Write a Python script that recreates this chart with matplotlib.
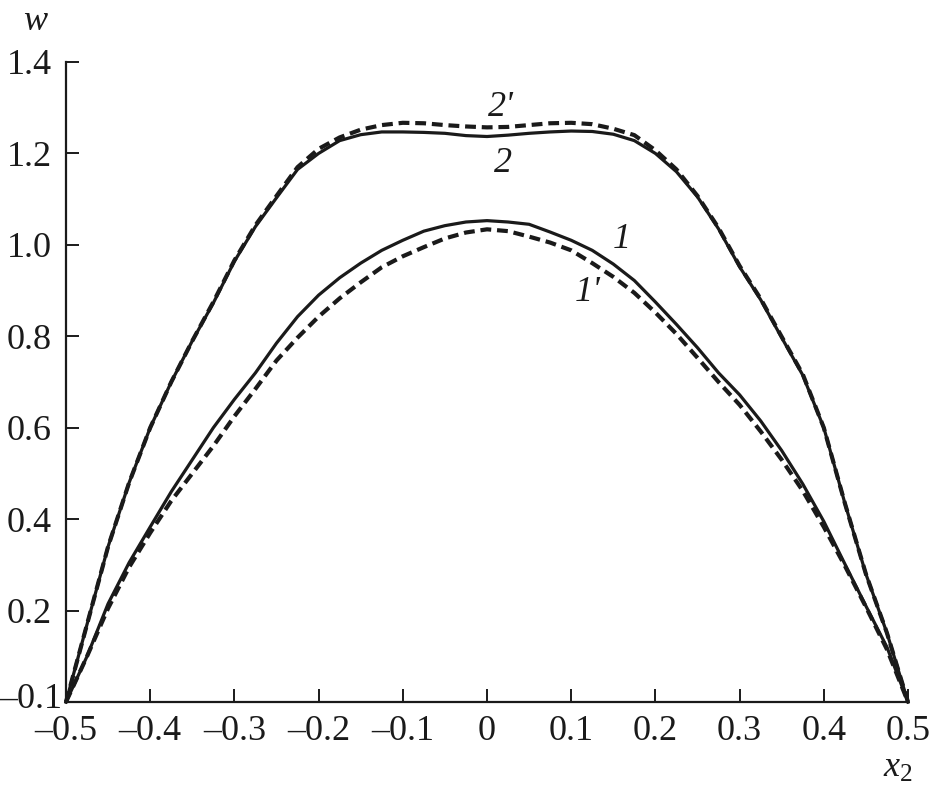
import matplotlib
matplotlib.use("Agg")
import matplotlib.pyplot as plt
import numpy as np

plt.rcParams['font.family'] = ['Liberation Serif', 'DejaVu Serif']
plt.rcParams['mathtext.fontset'] = 'custom'
plt.rcParams['mathtext.rm'] = 'Liberation Serif'
plt.rcParams['mathtext.it'] = 'Liberation Serif:italic'

# x positions of the read-off points
x2 = [-0.5, -0.475, -0.45, -0.425, -0.4, -0.375, -0.35, -0.325, -0.3, -0.275,
      -0.25, -0.225, -0.2, -0.175, -0.15, -0.125, -0.1, -0.075, -0.05, -0.025,
      0.0, 0.025, 0.05, 0.075, 0.1, 0.125, 0.15, 0.175, 0.2, 0.225,
      0.25, 0.275, 0.3, 0.325, 0.35, 0.375, 0.4, 0.425, 0.45, 0.475, 0.5]

# curve 1 (solid) and 1' (dashed)
w1 = [0.0, 0.10, 0.215, 0.305, 0.383, 0.46, 0.53, 0.60, 0.662, 0.72,
      0.785, 0.843, 0.89, 0.928, 0.96, 0.988, 1.01, 1.03, 1.042, 1.05,
      1.053, 1.05, 1.045, 1.028, 1.01, 0.988, 0.958, 0.922, 0.875, 0.826,
      0.775, 0.72, 0.672, 0.615, 0.55, 0.477, 0.395, 0.302, 0.21, 0.12, 0.0]
w1d = [0.0, 0.10, 0.205, 0.295, 0.37, 0.44, 0.50, 0.56, 0.625, 0.685,
       0.747, 0.797, 0.843, 0.883, 0.918, 0.951, 0.975, 0.995, 1.014, 1.027,
       1.034, 1.03, 1.018, 1.005, 0.988, 0.96, 0.93, 0.895, 0.852, 0.805,
       0.753, 0.70, 0.65, 0.592, 0.53, 0.462, 0.383, 0.298, 0.208, 0.115, 0.0]

# curve 2 (solid) and 2' (dashed)
w2 = [0.0, 0.17, 0.34, 0.48, 0.60, 0.70, 0.79, 0.873, 0.964, 1.04,
      1.103, 1.165, 1.20, 1.228, 1.241, 1.247, 1.247, 1.246, 1.244, 1.239,
      1.237, 1.240, 1.244, 1.247, 1.249, 1.248, 1.242, 1.228, 1.20, 1.16,
      1.105, 1.035, 0.952, 0.88, 0.797, 0.715, 0.60, 0.435, 0.28, 0.151, 0.0]
w2d = [0.0, 0.17, 0.34, 0.48, 0.60, 0.70, 0.79, 0.875, 0.966, 1.043,
       1.107, 1.17, 1.21, 1.235, 1.252, 1.262, 1.267, 1.266, 1.262, 1.259,
       1.257, 1.258, 1.262, 1.266, 1.267, 1.264, 1.254, 1.240, 1.207, 1.165,
       1.107, 1.037, 0.954, 0.882, 0.799, 0.717, 0.60, 0.435, 0.28, 0.151, 0.0]

xticks = [-0.5, -0.4, -0.3, -0.2, -0.1, 0.0, 0.1, 0.2, 0.3, 0.4, 0.5]
xticklabels = ['\u20130.5', '\u20130.4', '\u20130.3', '\u20130.2', '\u20130.1',
               '0', '0.1', '0.2', '0.3', '0.4', '0.5']
yticks = [0.0, 0.2, 0.4, 0.6, 0.8, 1.0, 1.2, 1.4]
yticklabels = ['\u20130.1', '0.2', '0.4', '0.6', '0.8', '1.0', '1.2', '1.4']

ink = '#1a1a1a'

fig = plt.figure(figsize=(9.32, 7.92), dpi=100)
ax = fig.add_axes([66 / 932, 90 / 792, 842 / 932, 640 / 792])

ax.plot(x2, w2, color=ink, lw=2.3, clip_on=False)
ax.plot(x2, w2d, color=ink, lw=3.0, ls=(0, (2.6, 1.4)), clip_on=False)
ax.plot(x2, w1, color=ink, lw=2.3, clip_on=False)
ax.plot(x2, w1d, color=ink, lw=3.0, ls=(0, (2.6, 1.4)), clip_on=False)

# curve labels
lab = dict(fontsize=26, style='italic', ha='center', va='center', color=ink)
ax.text(0.016, 1.30, "2'", **lab)
ax.text(0.019, 1.177, '2', **lab)
ax.text(0.160, 1.011, '1', **lab)
ax.text(0.119, 0.895, "1'", **lab)

ax.set_xlim(-0.5, 0.5)
ax.set_ylim(0, 1.4)
ax.set_xticks(xticks)
ax.set_xticklabels(xticklabels)
ax.set_yticks(yticks)
# the bottom label sits closer to the spine in the original, drawn separately
ax.set_yticklabels([''] + yticklabels[1:])
ax.annotate(yticklabels[0], xy=(0, 0), xycoords='axes fraction',
            xytext=(-3, 2), textcoords='offset points',
            ha='right', va='center', fontsize=26, color=ink)
ax.tick_params(direction='in', length=9.5, width=1.4, labelsize=26, color=ink,
               labelcolor=ink)
ax.tick_params(axis='x', pad=9)
ax.tick_params(axis='y', pad=10)

for s in ['top', 'right']:
    ax.spines[s].set_visible(False)
for s in ['left', 'bottom']:
    ax.spines[s].set_linewidth(1.6)
    ax.spines[s].set_color(ink)

fig.text(36 / 932, 1 - 22 / 792, '$w$', fontsize=26, ha='center', va='center', color=ink)
fig.text(898 / 932, 1 - 768 / 792, '$x_2$', fontsize=26, ha='center', va='center', color=ink)

fig.savefig('out.png', dpi=100)
